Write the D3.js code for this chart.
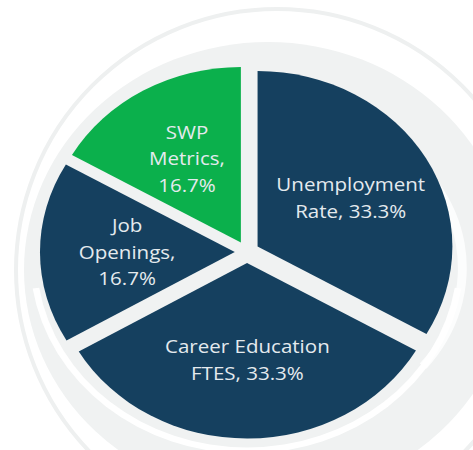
<!DOCTYPE html>
<html>
<head>
<meta charset="utf-8">
<script src="https://cdn.jsdelivr.net/npm/d3@7"></script>
<style>
  html, body { margin: 0; padding: 0; background: #fff; }
  svg { display: block; }
</style>
</head>
<body>
<div id="chart"></div>
<script>
// data
const categories = ['Unemployment Rate', 'Career Education FTES', 'Job Openings', 'SWP Metrics'];
const shares = [33.3, 33.3, 16.7, 16.7];
// how each label wraps (last line gets the percentage)
const labelLines = [
  ['Unemployment', 'Rate,'],
  ['Career Education', 'FTES,'],
  ['Job', 'Openings,', ''],
  ['SWP', 'Metrics,', '']
];
const colors = ['#15405f', '#15405f', '#15405f', '#0bb04c'];

const width = 473;
const height = 450;

const cx = 247;
const cy = 252;
const radius = 175.5;
const explode = 11;
const stretch = 1.11; // the picture is a bit wider than tall
const labelRadius = 97;

const svg = d3.select('#chart')
  .append('svg')
  .attr('width', width)
  .attr('height', height);

/* faint watermark behind the pie */
const bg = svg.append('g');
bg.append('circle')
  .attr('cx', 277)
  .attr('cy', 270)
  .attr('r', 261)
  .attr('fill', 'none')
  .attr('stroke', '#eef0f0')
  .attr('stroke-width', 4);
bg.append('ellipse')
  .attr('cx', 268)
  .attr('cy', 270)
  .attr('rx', 244)
  .attr('ry', 228)
  .attr('fill', '#f0f2f2');

const swoosh = d3.arc()
  .innerRadius(radius + 14)
  .outerRadius(radius + 20);
const wm = bg.append('g')
  .attr('transform', `translate(${cx},${cy + 6}) scale(${stretch},1)`);
wm.append('path')
  .attr('d', swoosh({ startAngle: Math.PI * 0.55, endAngle: Math.PI * 1.45 }))
  .attr('fill', '#ffffff');
wm.append('path')
  .attr('d', d3.arc().innerRadius(150).outerRadius(158)({ startAngle: Math.PI * 0.18, endAngle: Math.PI * 0.72 }))
  .attr('transform', 'translate(40,10)')
  .attr('fill', '#ffffff')
  .attr('opacity', 0.8);

/* pie */
const pie = d3.pie().sort(null).value(d => d);
const arcs = pie(shares);

const arc = d3.arc().innerRadius(0).outerRadius(radius);
const labelArc = d3.arc().innerRadius(labelRadius).outerRadius(labelRadius);

const g = svg.append('g')
  .attr('transform', `translate(${cx},${cy}) scale(${stretch},1)`);

const slice = g.selectAll('g.slice')
  .data(arcs)
  .enter()
  .append('g')
  .attr('class', 'slice')
  .attr('transform', d => {
    const mid = (d.startAngle + d.endAngle) / 2;
    return `translate(${Math.sin(mid) * explode},${-Math.cos(mid) * explode})`;
  });

slice.append('path')
  .attr('d', arc)
  .attr('fill', (d, i) => colors[i]);

const fmt = d3.format('.1f');
const lineHeight = 26.5;

slice.append('text')
  .attr('transform', d => `translate(${labelArc.centroid(d)})`)
  .attr('text-anchor', 'middle')
  .attr('font-family', '"Open Sans", "Noto Sans", sans-serif')
  .attr('font-size', 18.5)
  .attr('fill', '#e4eaee')
  .each(function (d, i) {
    const lines = labelLines[i].slice();
    const last = lines.length - 1;
    lines[last] = (lines[last] ? lines[last] + ' ' : '') + fmt(shares[i]) + '%';
    const t = d3.select(this);
    const top = -(lines.length - 1) / 2 * lineHeight + 6.5;
    lines.forEach((s, k) => {
      t.append('tspan')
        .attr('x', 0)
        .attr('y', top + k * lineHeight)
        .text(s);
    });
  });
</script>
</body>
</html>
